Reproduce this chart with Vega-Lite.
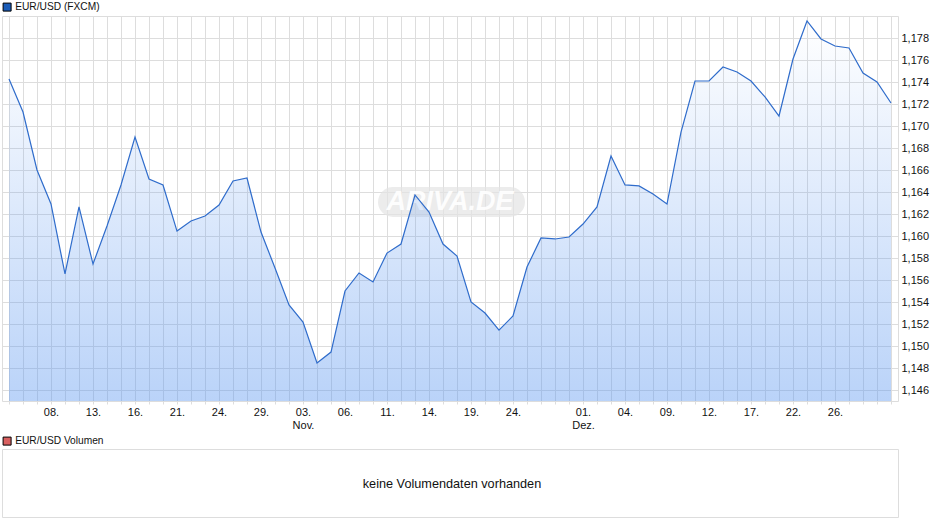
{
  "$schema": "https://vega.github.io/schema/vega-lite/v6.json",
  "background": "#ffffff",
  "padding": {"left": 1, "top": 1, "right": 10, "bottom": 8},
  "bounds": "flush",
  "spacing": 48,
  "config": {
    "font": "Liberation Sans",
    "view": {"stroke": "#dddddd"},
    "legend": {"labelFont": "Liberation Sans", "labelFontSize": 10.2, "labelOffset": 3, "labelColor": "#111111", "symbolType": "square", "symbolSize": 64, "symbolOpacity": 1, "symbolStrokeColor": "#000000", "symbolStrokeWidth": 1, "title": null, "padding": 0}
  },
  "vconcat": [
    {
      "width": 896,
      "height": 385,
      "data": {
        "values": [
          {"date": "2025-10-03", "close": 1.17427, "series": "EUR/USD (FXCM)"},
          {"date": "2025-10-06", "close": 1.17127, "series": "EUR/USD (FXCM)"},
          {"date": "2025-10-07", "close": 1.1660, "series": "EUR/USD (FXCM)"},
          {"date": "2025-10-08", "close": 1.16291, "series": "EUR/USD (FXCM)"},
          {"date": "2025-10-09", "close": 1.15655, "series": "EUR/USD (FXCM)"},
          {"date": "2025-10-10", "close": 1.16264, "series": "EUR/USD (FXCM)"},
          {"date": "2025-10-13", "close": 1.15745, "series": "EUR/USD (FXCM)"},
          {"date": "2025-10-14", "close": 1.16091, "series": "EUR/USD (FXCM)"},
          {"date": "2025-10-15", "close": 1.16464, "series": "EUR/USD (FXCM)"},
          {"date": "2025-10-16", "close": 1.1690, "series": "EUR/USD (FXCM)"},
          {"date": "2025-10-17", "close": 1.16518, "series": "EUR/USD (FXCM)"},
          {"date": "2025-10-20", "close": 1.16464, "series": "EUR/USD (FXCM)"},
          {"date": "2025-10-21", "close": 1.16045, "series": "EUR/USD (FXCM)"},
          {"date": "2025-10-22", "close": 1.16136, "series": "EUR/USD (FXCM)"},
          {"date": "2025-10-23", "close": 1.16182, "series": "EUR/USD (FXCM)"},
          {"date": "2025-10-24", "close": 1.16282, "series": "EUR/USD (FXCM)"},
          {"date": "2025-10-27", "close": 1.1650, "series": "EUR/USD (FXCM)"},
          {"date": "2025-10-28", "close": 1.16527, "series": "EUR/USD (FXCM)"},
          {"date": "2025-10-29", "close": 1.16036, "series": "EUR/USD (FXCM)"},
          {"date": "2025-10-30", "close": 1.15709, "series": "EUR/USD (FXCM)"},
          {"date": "2025-10-31", "close": 1.15373, "series": "EUR/USD (FXCM)"},
          {"date": "2025-11-03", "close": 1.15218, "series": "EUR/USD (FXCM)"},
          {"date": "2025-11-04", "close": 1.14845, "series": "EUR/USD (FXCM)"},
          {"date": "2025-11-05", "close": 1.14945, "series": "EUR/USD (FXCM)"},
          {"date": "2025-11-06", "close": 1.1550, "series": "EUR/USD (FXCM)"},
          {"date": "2025-11-07", "close": 1.15664, "series": "EUR/USD (FXCM)"},
          {"date": "2025-11-10", "close": 1.15582, "series": "EUR/USD (FXCM)"},
          {"date": "2025-11-11", "close": 1.15845, "series": "EUR/USD (FXCM)"},
          {"date": "2025-11-12", "close": 1.15927, "series": "EUR/USD (FXCM)"},
          {"date": "2025-11-13", "close": 1.16373, "series": "EUR/USD (FXCM)"},
          {"date": "2025-11-14", "close": 1.16218, "series": "EUR/USD (FXCM)"},
          {"date": "2025-11-17", "close": 1.15927, "series": "EUR/USD (FXCM)"},
          {"date": "2025-11-18", "close": 1.15818, "series": "EUR/USD (FXCM)"},
          {"date": "2025-11-19", "close": 1.1540, "series": "EUR/USD (FXCM)"},
          {"date": "2025-11-20", "close": 1.1530, "series": "EUR/USD (FXCM)"},
          {"date": "2025-11-21", "close": 1.15145, "series": "EUR/USD (FXCM)"},
          {"date": "2025-11-24", "close": 1.15273, "series": "EUR/USD (FXCM)"},
          {"date": "2025-11-25", "close": 1.15718, "series": "EUR/USD (FXCM)"},
          {"date": "2025-11-26", "close": 1.15982, "series": "EUR/USD (FXCM)"},
          {"date": "2025-11-27", "close": 1.15973, "series": "EUR/USD (FXCM)"},
          {"date": "2025-11-28", "close": 1.15991, "series": "EUR/USD (FXCM)"},
          {"date": "2025-12-01", "close": 1.16109, "series": "EUR/USD (FXCM)"},
          {"date": "2025-12-02", "close": 1.16264, "series": "EUR/USD (FXCM)"},
          {"date": "2025-12-03", "close": 1.16727, "series": "EUR/USD (FXCM)"},
          {"date": "2025-12-04", "close": 1.16464, "series": "EUR/USD (FXCM)"},
          {"date": "2025-12-05", "close": 1.16455, "series": "EUR/USD (FXCM)"},
          {"date": "2025-12-08", "close": 1.16382, "series": "EUR/USD (FXCM)"},
          {"date": "2025-12-09", "close": 1.16291, "series": "EUR/USD (FXCM)"},
          {"date": "2025-12-10", "close": 1.16945, "series": "EUR/USD (FXCM)"},
          {"date": "2025-12-11", "close": 1.17409, "series": "EUR/USD (FXCM)"},
          {"date": "2025-12-12", "close": 1.17409, "series": "EUR/USD (FXCM)"},
          {"date": "2025-12-15", "close": 1.17536, "series": "EUR/USD (FXCM)"},
          {"date": "2025-12-16", "close": 1.17491, "series": "EUR/USD (FXCM)"},
          {"date": "2025-12-17", "close": 1.17409, "series": "EUR/USD (FXCM)"},
          {"date": "2025-12-18", "close": 1.17264, "series": "EUR/USD (FXCM)"},
          {"date": "2025-12-19", "close": 1.17091, "series": "EUR/USD (FXCM)"},
          {"date": "2025-12-22", "close": 1.17609, "series": "EUR/USD (FXCM)"},
          {"date": "2025-12-23", "close": 1.17955, "series": "EUR/USD (FXCM)"},
          {"date": "2025-12-24", "close": 1.17791, "series": "EUR/USD (FXCM)"},
          {"date": "2025-12-26", "close": 1.17727, "series": "EUR/USD (FXCM)"},
          {"date": "2025-12-29", "close": 1.17709, "series": "EUR/USD (FXCM)"},
          {"date": "2025-12-30", "close": 1.17482, "series": "EUR/USD (FXCM)"},
          {"date": "2025-12-31", "close": 1.1740, "series": "EUR/USD (FXCM)"},
          {"date": "2026-01-02", "close": 1.17209, "series": "EUR/USD (FXCM)"}
        ]
      },
      "encoding": {
        "x": {
          "field": "date",
          "type": "ordinal",
          "scale": {"type": "point", "padding": 0.5},
          "axis": {
            "title": null,
            "grid": true,
            "gridColor": "#dddddd",
            "domain": false,
            "tickColor": "#dddddd",
            "tickSize": 3,
            "labelAngle": 0,
            "labelAlign": "center",
            "labelBaseline": "top",
            "labelPadding": 2,
            "labelFontSize": 11,
            "labelColor": "#111111",
            "labelLineHeight": 13,
            "labelOverlap": false,
            "labelBound": false,
            "labelFlush": false,
            "labelExpr": "datum.value == '2025-11-03' ? ['03.', 'Nov.'] : datum.value == '2025-12-01' ? ['01.', 'Dez.'] : indexof(['2025-10-08','2025-10-13','2025-10-16','2025-10-21','2025-10-24','2025-10-29','2025-11-06','2025-11-11','2025-11-14','2025-11-19','2025-11-24','2025-12-04','2025-12-09','2025-12-12','2025-12-17','2025-12-22','2025-12-26'], datum.value) >= 0 ? substring(datum.value, 8) + '.' : ''"
          }
        },
        "y": {
          "field": "close",
          "type": "quantitative",
          "scale": {"domain": [1.145, 1.18], "zero": false, "nice": false},
          "axis": {
            "title": null,
            "orient": "right",
            "values": [1.146, 1.148, 1.15, 1.152, 1.154, 1.156, 1.158, 1.16, 1.162, 1.164, 1.166, 1.168, 1.17, 1.172, 1.174, 1.176, 1.178],
            "grid": true,
            "gridColor": "#dddddd",
            "domain": false,
            "ticks": false,
            "labelPadding": 3,
            "labelFontSize": 11,
            "labelColor": "#111111",
            "labelExpr": "replace(format(datum.value, '.3f'), '.', ',')"
          }
        }
      },
      "layer": [
        {
          "data": {"values": [{"date": "2025-11-12", "end": "2025-11-24", "level": 1.16309}]},
          "mark": {"type": "rule", "strokeWidth": 30, "strokeCap": "round", "color": "#e4e4e4", "opacity": 0.7, "xOffset": -8, "x2Offset": -3},
          "encoding": {
            "x": {"field": "date", "type": "ordinal"},
            "x2": {"field": "end"},
            "y": {"field": "level", "type": "quantitative"}
          }
        },
        {
          "data": {"values": [{"date": "2025-11-18", "level": 1.16309, "name": "ARIVA.DE"}]},
          "mark": {"type": "text", "font": "Liberation Sans", "fontSize": 27, "fontWeight": "bold", "fontStyle": "italic", "color": "#ffffff", "opacity": 0.9, "dx": -7},
          "encoding": {
            "x": {"field": "date", "type": "ordinal"},
            "y": {"field": "level", "type": "quantitative"},
            "text": {"field": "name"}
          }
        },
        {
          "mark": {
            "type": "area",
            "color": {
              "gradient": "linear",
              "x1": 0, "y1": 0, "x2": 0, "y2": 1,
              "stops": [
                {"offset": 0, "color": "rgba(90,150,240,0)"},
                {"offset": 1, "color": "rgba(90,150,240,0.42)"}
              ]
            }
          },
          "encoding": {"y2": {"datum": 1.145}}
        },
        {
          "mark": {"type": "line", "color": "#2f6ccb", "strokeWidth": 1.2}
        },
        {
          "mark": {"type": "square", "size": 0},
          "encoding": {
            "fill": {
              "field": "series",
              "type": "nominal",
              "scale": {"range": ["#1a5cb8"]},
              "legend": {"orient": "none", "legendX": 0, "legendY": -14}
            }
          }
        }
      ]
    },
    {
      "width": 896,
      "height": 68,
      "view": {"stroke": "#dddddd"},
      "data": {"values": [{"message": "keine Volumendaten vorhanden", "series": "EUR/USD Volumen"}]},
      "layer": [
        {
          "mark": {"type": "text", "font": "Liberation Sans", "fontSize": 12.7, "color": "#111111", "dx": 2, "dy": 1},
          "encoding": {"text": {"field": "message"}}
        },
        {
          "mark": {"type": "square", "size": 0},
          "encoding": {
            "color": {
              "field": "series",
              "type": "nominal",
              "scale": {"range": ["#d96060"]},
              "legend": {"orient": "none", "legendX": 0, "legendY": -13}
            }
          }
        }
      ]
    }
  ],
  "resolve": {"scale": {"x": "independent", "y": "independent", "color": "independent", "fill": "independent"}, "legend": {"color": "independent", "fill": "independent"}}
}
